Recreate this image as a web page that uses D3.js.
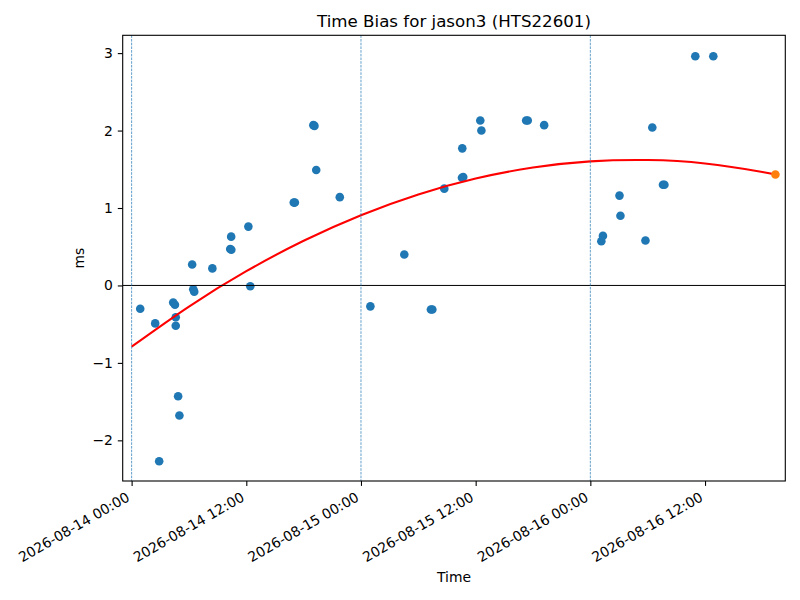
<!DOCTYPE html>
<html>
<head>
<meta charset="utf-8">
<script src="https://cdn.jsdelivr.net/npm/d3@7"></script>
<style>
  body { margin: 0; background: #fff; }
  svg { display: block; font-family: "DejaVu Sans", sans-serif; }
</style>
</head>
<body>
<svg id="chart" width="800" height="600"></svg>
<script>
// ---- data ----
const obsTimes = [
  "2026-08-14T00:54","2026-08-14T02:28","2026-08-14T02:53","2026-08-14T04:21","2026-08-14T04:32",
  "2026-08-14T04:37","2026-08-14T04:37","2026-08-14T04:52","2026-08-14T05:00","2026-08-14T06:20",
  "2026-08-14T06:27","2026-08-14T06:33","2026-08-14T08:27","2026-08-14T10:25","2026-08-14T10:19",
  "2026-08-14T10:26","2026-08-14T12:13","2026-08-14T12:25","2026-08-14T16:58","2026-08-14T17:05",
  "2026-08-14T19:01","2026-08-14T19:08","2026-08-14T19:19","2026-08-14T21:47",
  "2026-08-15T00:59","2026-08-15T04:32","2026-08-15T07:19","2026-08-15T07:28","2026-08-15T08:43",
  "2026-08-15T10:34","2026-08-15T10:42","2026-08-15T10:36","2026-08-15T12:29","2026-08-15T12:36",
  "2026-08-15T17:17","2026-08-15T17:27","2026-08-15T19:10",
  "2026-08-16T01:09","2026-08-16T01:19","2026-08-16T03:03","2026-08-16T03:09","2026-08-16T05:46",
  "2026-08-16T06:29","2026-08-16T07:36","2026-08-16T07:45","2026-08-16T10:59","2026-08-16T12:52"
];
const obsBias = [
  -0.30,-0.49,-2.27,-0.22,-0.25,
  -0.41,-0.52,-1.43,-1.68,0.27,
  -0.05,-0.08,0.22,0.63,0.47,
  0.46,0.76,-0.01,1.07,1.07,
  2.07,2.06,1.49,1.14,
  -0.27,0.40,-0.31,-0.31,1.25,
  1.39,1.40,1.77,2.13,2.00,
  2.13,2.13,2.07,
  0.57,0.64,1.16,0.90,0.58,
  2.04,1.30,1.30,2.96,2.96
];
const fitTimes = [
  "2026-08-14T00:00","2026-08-14T06:00","2026-08-14T12:00","2026-08-14T18:00",
  "2026-08-15T00:00","2026-08-15T06:00","2026-08-15T12:00","2026-08-15T18:00",
  "2026-08-16T00:00","2026-08-16T06:00","2026-08-16T12:00","2026-08-16T18:00","2026-08-16T19:22"
];
const fitBias = [-0.79,-0.272,0.184,0.577,0.907,1.175,1.380,1.522,1.602,1.619,1.574,1.466,1.433];
const predTime = ["2026-08-16T19:22"];
const predBias = [1.433];
const dayLines = ["2026-08-14T00:00","2026-08-15T00:00","2026-08-16T00:00"];
const xTicks = ["2026-08-14T00:00","2026-08-14T12:00","2026-08-15T00:00","2026-08-15T12:00","2026-08-16T00:00","2026-08-16T12:00"];
const yTicks = [-2,-1,0,1,2,3];
const xDomain = ["2026-08-13T23:04","2026-08-16T20:24"];
const yDomain = [-2.525, 3.23];
const titleText = "Time Bias for jason3 (HTS22601)";

// ---- layout ----
const W = 800, H = 600;
const L = 122.7, R = 785.3, T = 35.3, B = 481;
const parse = s => new Date(s + ":00Z");

const svg = d3.select("#chart");
const x = d3.scaleUtc().domain(xDomain.map(parse)).range([L, R]);
const y = d3.scaleLinear().domain(yDomain).range([B, T]);

const plot = svg.append("g");
// clip
svg.append("clipPath").attr("id","clip").append("rect")
  .attr("x", L).attr("y", T).attr("width", R-L).attr("height", B-T);
plot.attr("clip-path","url(#clip)");

// scatter
plot.selectAll("circle.obs").data(obsTimes.map((t,i)=>({t:parse(t), v:obsBias[i]})))
  .join("circle").attr("class","obs")
  .attr("cx", d=>x(d.t)).attr("cy", d=>y(d.v)).attr("r", 4.3)
  .attr("fill", "#1f77b4");

// fit line
const line = d3.line().x(d=>x(d.t)).y(d=>y(d.v)).curve(d3.curveNatural);
plot.append("path")
  .datum(fitTimes.map((t,i)=>({t:parse(t), v:fitBias[i]})))
  .attr("d", line).attr("fill","none").attr("stroke","#ff0000").attr("stroke-width",2.08);

// prediction point
plot.selectAll("circle.pred").data(predTime.map((t,i)=>({t:parse(t), v:predBias[i]})))
  .join("circle").attr("class","pred")
  .attr("cx", d=>x(d.t)).attr("cy", d=>y(d.v)).attr("r", 4.3)
  .attr("fill", "#ff7f0e");

// zero line
plot.append("line").attr("x1", L).attr("x2", R).attr("y1", y(0)).attr("y2", y(0))
  .attr("stroke","#000").attr("stroke-width",1);

// day lines
plot.selectAll("line.day").data(dayLines.map(parse)).join("line").attr("class","day")
  .attr("x1", d=>x(d)).attr("x2", d=>x(d)).attr("y1", T).attr("y2", B)
  .attr("stroke","#1f77b4").attr("stroke-width",0.7).attr("stroke-dasharray","2.6,1.1");

// axes
const fmt = d3.utcFormat("%Y-%m-%d %H:%M");
const xAxis = d3.axisBottom(x).tickValues(xTicks.map(parse)).tickFormat(fmt)
  .tickSizeInner(4.9).tickSizeOuter(0).tickPadding(3);
const gx = svg.append("g").attr("transform", `translate(0,${B})`).call(xAxis);
gx.select(".domain").remove();
gx.selectAll(".tick line").attr("stroke","#000").attr("stroke-width",1.1);
gx.selectAll(".tick text")
  .attr("font-size", 13.9).attr("font-family","DejaVu Sans, sans-serif").attr("fill","#000")
  .attr("text-anchor","end")
  .attr("dy", null).attr("y", null)
  .attr("transform","translate(-1.5,19) rotate(-30)");

const yAxis = d3.axisLeft(y).tickValues(yTicks).tickFormat(d => d < 0 ? "\u2212" + Math.abs(d) : String(d))
  .tickSizeInner(4.9).tickSizeOuter(0).tickPadding(4.9);
const gy = svg.append("g").attr("transform", `translate(${L},0)`).call(yAxis);
gy.select(".domain").remove();
gy.selectAll(".tick line").attr("stroke","#000").attr("stroke-width",1.1);
gy.selectAll(".tick text").attr("font-size", 13.9).attr("font-family","DejaVu Sans, sans-serif").attr("fill","#000");

// frame
svg.append("rect").attr("x", L).attr("y", T).attr("width", R-L).attr("height", B-T)
  .attr("fill","none").attr("stroke","#000").attr("stroke-width",1.1);

// labels
svg.append("text").attr("x", (L+R)/2).attr("y", 27.3).attr("text-anchor","middle")
  .attr("font-size", 16.67).attr("fill","#000").text(titleText);
svg.append("text").attr("x", (L+R)/2).attr("y", 581.5).attr("text-anchor","middle")
  .attr("font-size", 13.9).attr("fill","#000").text("Time");
svg.append("text").attr("transform", `translate(84,${(T+B)/2}) rotate(-90)`).attr("text-anchor","middle")
  .attr("font-size", 13.9).attr("fill","#000").text("ms");
</script>
</body>
</html>
